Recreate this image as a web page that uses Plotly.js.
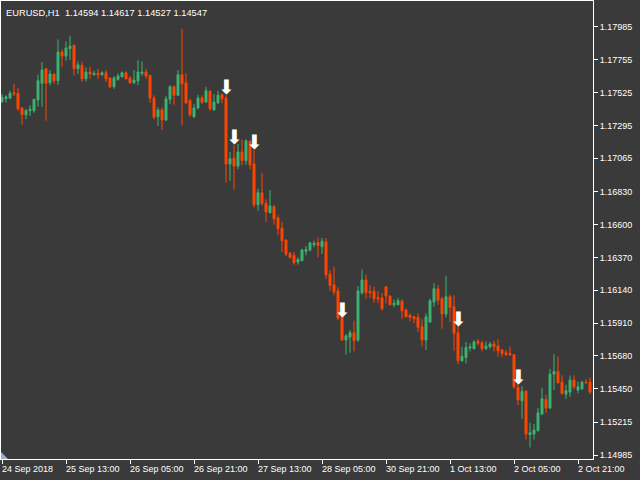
<!DOCTYPE html>
<html><head><meta charset="utf-8">
<script src="https://cdn.plot.ly/plotly-3.0.1.min.js"></script>
<style>html,body{margin:0;padding:0;background:#3a3a3a;}#chart{width:640px;height:480px;}</style>
</head><body><div id="chart"></div>
<script>
const openP = [1.17461,1.17482,1.17487,1.17524,1.17520,1.17417,1.17370,1.17398,1.17398,1.17473,
1.17590,1.17692,1.17594,1.17655,1.17608,1.17809,1.17781,1.17833,1.17856,1.17692,
1.17716,1.17622,1.17669,1.17650,1.17660,1.17650,1.17664,1.17627,1.17566,1.17618,
1.17636,1.17664,1.17627,1.17594,1.17608,1.17660,1.17669,1.17646,1.17487,1.17356,
1.17403,1.17333,1.17478,1.17566,1.17506,1.17650,1.17594,1.17468,1.17356,1.17417,
1.17487,1.17459,1.17534,1.17403,1.17454,1.17510,1.17487,1.17024,1.17066,1.17010,
1.17109,1.17048,1.17183,1.17024,1.16739,1.16823,1.16749,1.16683,1.16725,1.16646,
1.16576,1.16492,1.16398,1.16384,1.16337,1.16347,1.16412,1.16422,1.16459,1.16473,
1.16445,1.16478,1.16253,1.16178,1.16136,1.15954,1.15791,1.15810,1.15842,1.15791,
1.16122,1.16211,1.16132,1.16132,1.16090,1.16085,1.16164,1.16099,1.16038,1.16038,
1.16062,1.16001,1.15964,1.15954,1.15950,1.15884,1.15791,1.15917,1.16057,1.16150,
1.16080,1.15973,1.16094,1.16024,1.15842,1.15646,1.15669,1.15735,1.15730,1.15782,
1.15772,1.15730,1.15744,1.15763,1.15749,1.15721,1.15702,1.15697,1.15688,1.15459,
1.15365,1.15431,1.15127,1.15132,1.15155,1.15272,1.15375,1.15314,1.15552,1.15571,
1.15496,1.15412,1.15426,1.15510,1.15440,1.15449,1.15496,1.15496];
const highP = [1.17515,1.17506,1.17538,1.17585,1.17557,1.17422,1.17412,1.17436,1.17482,1.17650,
1.17739,1.17697,1.17683,1.17655,1.17898,1.17828,1.17884,1.17922,1.17861,1.17744,
1.17744,1.17702,1.17706,1.17678,1.17692,1.17674,1.17683,1.17632,1.17641,1.17660,
1.17674,1.17674,1.17641,1.17683,1.17753,1.17744,1.17692,1.17646,1.17506,1.17422,
1.17422,1.17501,1.17576,1.17576,1.17683,1.17973,1.17660,1.17482,1.17445,1.17510,
1.17506,1.17566,1.17543,1.17515,1.17538,1.17520,1.17506,1.17109,1.17155,1.17165,
1.17197,1.17197,1.17193,1.17122,1.16851,1.16963,1.16777,1.16842,1.16739,1.16665,
1.16618,1.16497,1.16408,1.16408,1.16370,1.16431,1.16450,1.16478,1.16487,1.16511,
1.16506,1.16506,1.16281,1.16304,1.16160,1.15964,1.15833,1.15861,1.15926,1.16169,
1.16286,1.16248,1.16174,1.16164,1.16136,1.16122,1.16169,1.16104,1.16076,1.16085,
1.16076,1.16010,1.15978,1.15959,1.15978,1.15940,1.15978,1.16080,1.16188,1.16178,
1.16094,1.16239,1.16108,1.16104,1.15894,1.15744,1.15777,1.15768,1.15791,1.15796,
1.15786,1.15782,1.15777,1.15786,1.15796,1.15730,1.15721,1.15744,1.15693,1.15501,
1.15468,1.15440,1.15211,1.15202,1.15314,1.15454,1.15407,1.15589,1.15693,1.15674,
1.15543,1.15477,1.15543,1.15543,1.15501,1.15505,1.15515,1.15529];
const lowP = [1.17454,1.17454,1.17478,1.17501,1.17398,1.17300,1.17338,1.17361,1.17384,1.17426,
1.17426,1.17328,1.17576,1.17585,1.17580,1.17706,1.17748,1.17753,1.17646,1.17655,
1.17599,1.17604,1.17622,1.17646,1.17622,1.17641,1.17599,1.17557,1.17552,1.17608,
1.17632,1.17618,1.17585,1.17585,1.17576,1.17641,1.17622,1.17454,1.17338,1.17291,
1.17263,1.17324,1.17445,1.17440,1.17506,1.17296,1.17445,1.17356,1.17347,1.17408,
1.17445,1.17454,1.17398,1.17403,1.17445,1.17450,1.16893,1.16907,1.16847,1.16987,
1.17015,1.17019,1.16987,1.16721,1.16697,1.16730,1.16618,1.16679,1.16599,1.16525,
1.16408,1.16379,1.16361,1.16319,1.16319,1.16342,1.16384,1.16412,1.16440,1.16370,
1.16394,1.16220,1.16136,1.16104,1.15931,1.15785,1.15688,1.15702,1.15711,1.15777,
1.16108,1.16080,1.16085,1.16052,1.16052,1.15996,1.16048,1.16034,1.16020,1.16034,
1.15940,1.15950,1.15922,1.15908,1.15847,1.15744,1.15721,1.15912,1.16024,1.16038,
1.15870,1.15950,1.15917,1.15716,1.15622,1.15636,1.15627,1.15711,1.15725,1.15753,
1.15711,1.15721,1.15730,1.15711,1.15674,1.15669,1.15678,1.15678,1.15449,1.15333,
1.15239,1.15094,1.15038,1.15094,1.15151,1.15267,1.15281,1.15309,1.15440,1.15487,
1.15407,1.15379,1.15393,1.15445,1.15417,1.15440,1.15487,1.15412];
const closeP = [1.17492,1.17496,1.17520,1.17517,1.17412,1.17370,1.17398,1.17408,1.17478,1.17608,
1.17683,1.17590,1.17655,1.17608,1.17809,1.17781,1.17837,1.17851,1.17692,1.17720,
1.17622,1.17669,1.17655,1.17660,1.17650,1.17664,1.17622,1.17566,1.17627,1.17641,
1.17664,1.17622,1.17594,1.17613,1.17669,1.17669,1.17641,1.17487,1.17352,1.17403,
1.17333,1.17482,1.17566,1.17506,1.17650,1.17585,1.17454,1.17370,1.17417,1.17487,
1.17459,1.17538,1.17412,1.17459,1.17506,1.17482,1.17024,1.17062,1.17010,1.17109,
1.17048,1.17188,1.17019,1.16739,1.16823,1.16749,1.16688,1.16730,1.16641,1.16571,
1.16487,1.16394,1.16370,1.16333,1.16356,1.16422,1.16426,1.16473,1.16469,1.16454,
1.16483,1.16248,1.16174,1.16127,1.15945,1.15791,1.15819,1.15842,1.15786,1.16136,
1.16211,1.16122,1.16122,1.16080,1.16080,1.16010,1.16099,1.16038,1.16048,1.16066,
1.15996,1.15954,1.15950,1.15940,1.15880,1.15791,1.15954,1.16066,1.16150,1.16071,
1.15973,1.16094,1.16020,1.15838,1.15646,1.15678,1.15739,1.15744,1.15777,1.15768,
1.15730,1.15749,1.15763,1.15744,1.15716,1.15697,1.15688,1.15688,1.15463,1.15370,
1.15431,1.15132,1.15141,1.15160,1.15281,1.15379,1.15314,1.15552,1.15571,1.15491,
1.15417,1.15435,1.15510,1.15463,1.15463,1.15496,1.15491,1.15426];
const barIndex = openP.map((_, i) => i);

const arrowBars = [56, 58, 63, 85, 114, 129];
const arrowPrices = [1.17585, 1.17235, 1.17200, 1.16024, 1.15961, 1.15552];

const xTickBars = [0, 16, 32, 48, 64, 80, 96, 112, 128, 144];
const xTickLabels = ['24 Sep 2018','25 Sep 13:00','26 Sep 05:00','26 Sep 21:00','27 Sep 13:00','28 Sep 05:00','30 Sep 21:00','1 Oct 13:00','2 Oct 05:00','2 Oct 21:00'];
const yTickVals = [1.14985,1.15215,1.15450,1.15680,1.15910,1.16140,1.16370,1.16600,1.16830,1.17065,1.17295,1.17525,1.17755,1.17985];
const chartTitle = 'EURUSD,H1  1.14594 1.14617 1.14527 1.14547';

const BG = '#3a3a3a', FG = '#ffffff', UP = '#3cb371', DN = '#ff4500';
const FONT = 'Liberation Sans, Arial, sans-serif';

const traces = [
  {
    type: 'candlestick', x: barIndex, open: openP, high: highP, low: lowP, close: closeP,
    increasing: {line: {color: UP, width: 1}, fillcolor: UP},
    decreasing: {line: {color: DN, width: 1}, fillcolor: DN},
    whiskerwidth: 0, hoverinfo: 'skip', showlegend: false
  }
];

const annotations = xTickBars.map((b, k) => ({
  xref: 'x', yref: 'paper', x: b, y: 0, xanchor: 'left', yanchor: 'top',
  xshift: -2, yshift: -3, showarrow: false, text: xTickLabels[k],
  font: {family: FONT, size: 9, color: FG}
}));
arrowBars.forEach((b, k) => annotations.push({
  xref: 'x', yref: 'y', x: b, y: arrowPrices[k], xanchor: 'center', yanchor: 'middle',
  yshift: -3, showarrow: false, text: '\u2B07',
  font: {family: 'DejaVu Sans', size: 20, color: '#ffffff'}
}));
annotations.push({
  xref: 'paper', yref: 'paper', x: 0, y: 1, xanchor: 'left', yanchor: 'top',
  xshift: 3, yshift: -5, showarrow: false, text: chartTitle,
  font: {family: FONT, size: 9.3, color: FG}
});

const layout = {
  width: 640, height: 480,
  margin: {l: 1, r: 47, t: 1, b: 21, pad: 0},
  paper_bgcolor: BG, plot_bgcolor: BG,
  showlegend: false,
  xaxis: {
    type: 'linear', range: [-0.25, 147.75], rangeslider: {visible: false},
    showgrid: false, zeroline: false, showline: true, mirror: true,
    linecolor: FG, linewidth: 1,
    tickmode: 'array', tickvals: xTickBars, ticks: 'outside', ticklen: 4,
    tickcolor: FG, showticklabels: false, fixedrange: true
  },
  yaxis: {
    side: 'right', range: [1.14957, 1.18167],
    showgrid: false, zeroline: false, showline: true, mirror: true,
    linecolor: FG, linewidth: 1,
    tickmode: 'array', tickvals: yTickVals, ticktext: yTickVals.map(v => v.toFixed(5)),
    ticks: 'outside', ticklen: 4, tickcolor: FG,
    tickfont: {family: FONT, size: 9, color: FG}, fixedrange: true
  },
  annotations: annotations,
  shapes: [{
    type: 'path', xref: 'paper', yref: 'paper',
    path: 'M 0 0.0153 L 0 0 L 0.0118 0 Z',
    fillcolor: '#9fb1c9', line: {width: 0}
  }]
};

Plotly.newPlot('chart', traces, layout, {staticPlot: true, displayModeBar: false});
</script></body></html>
